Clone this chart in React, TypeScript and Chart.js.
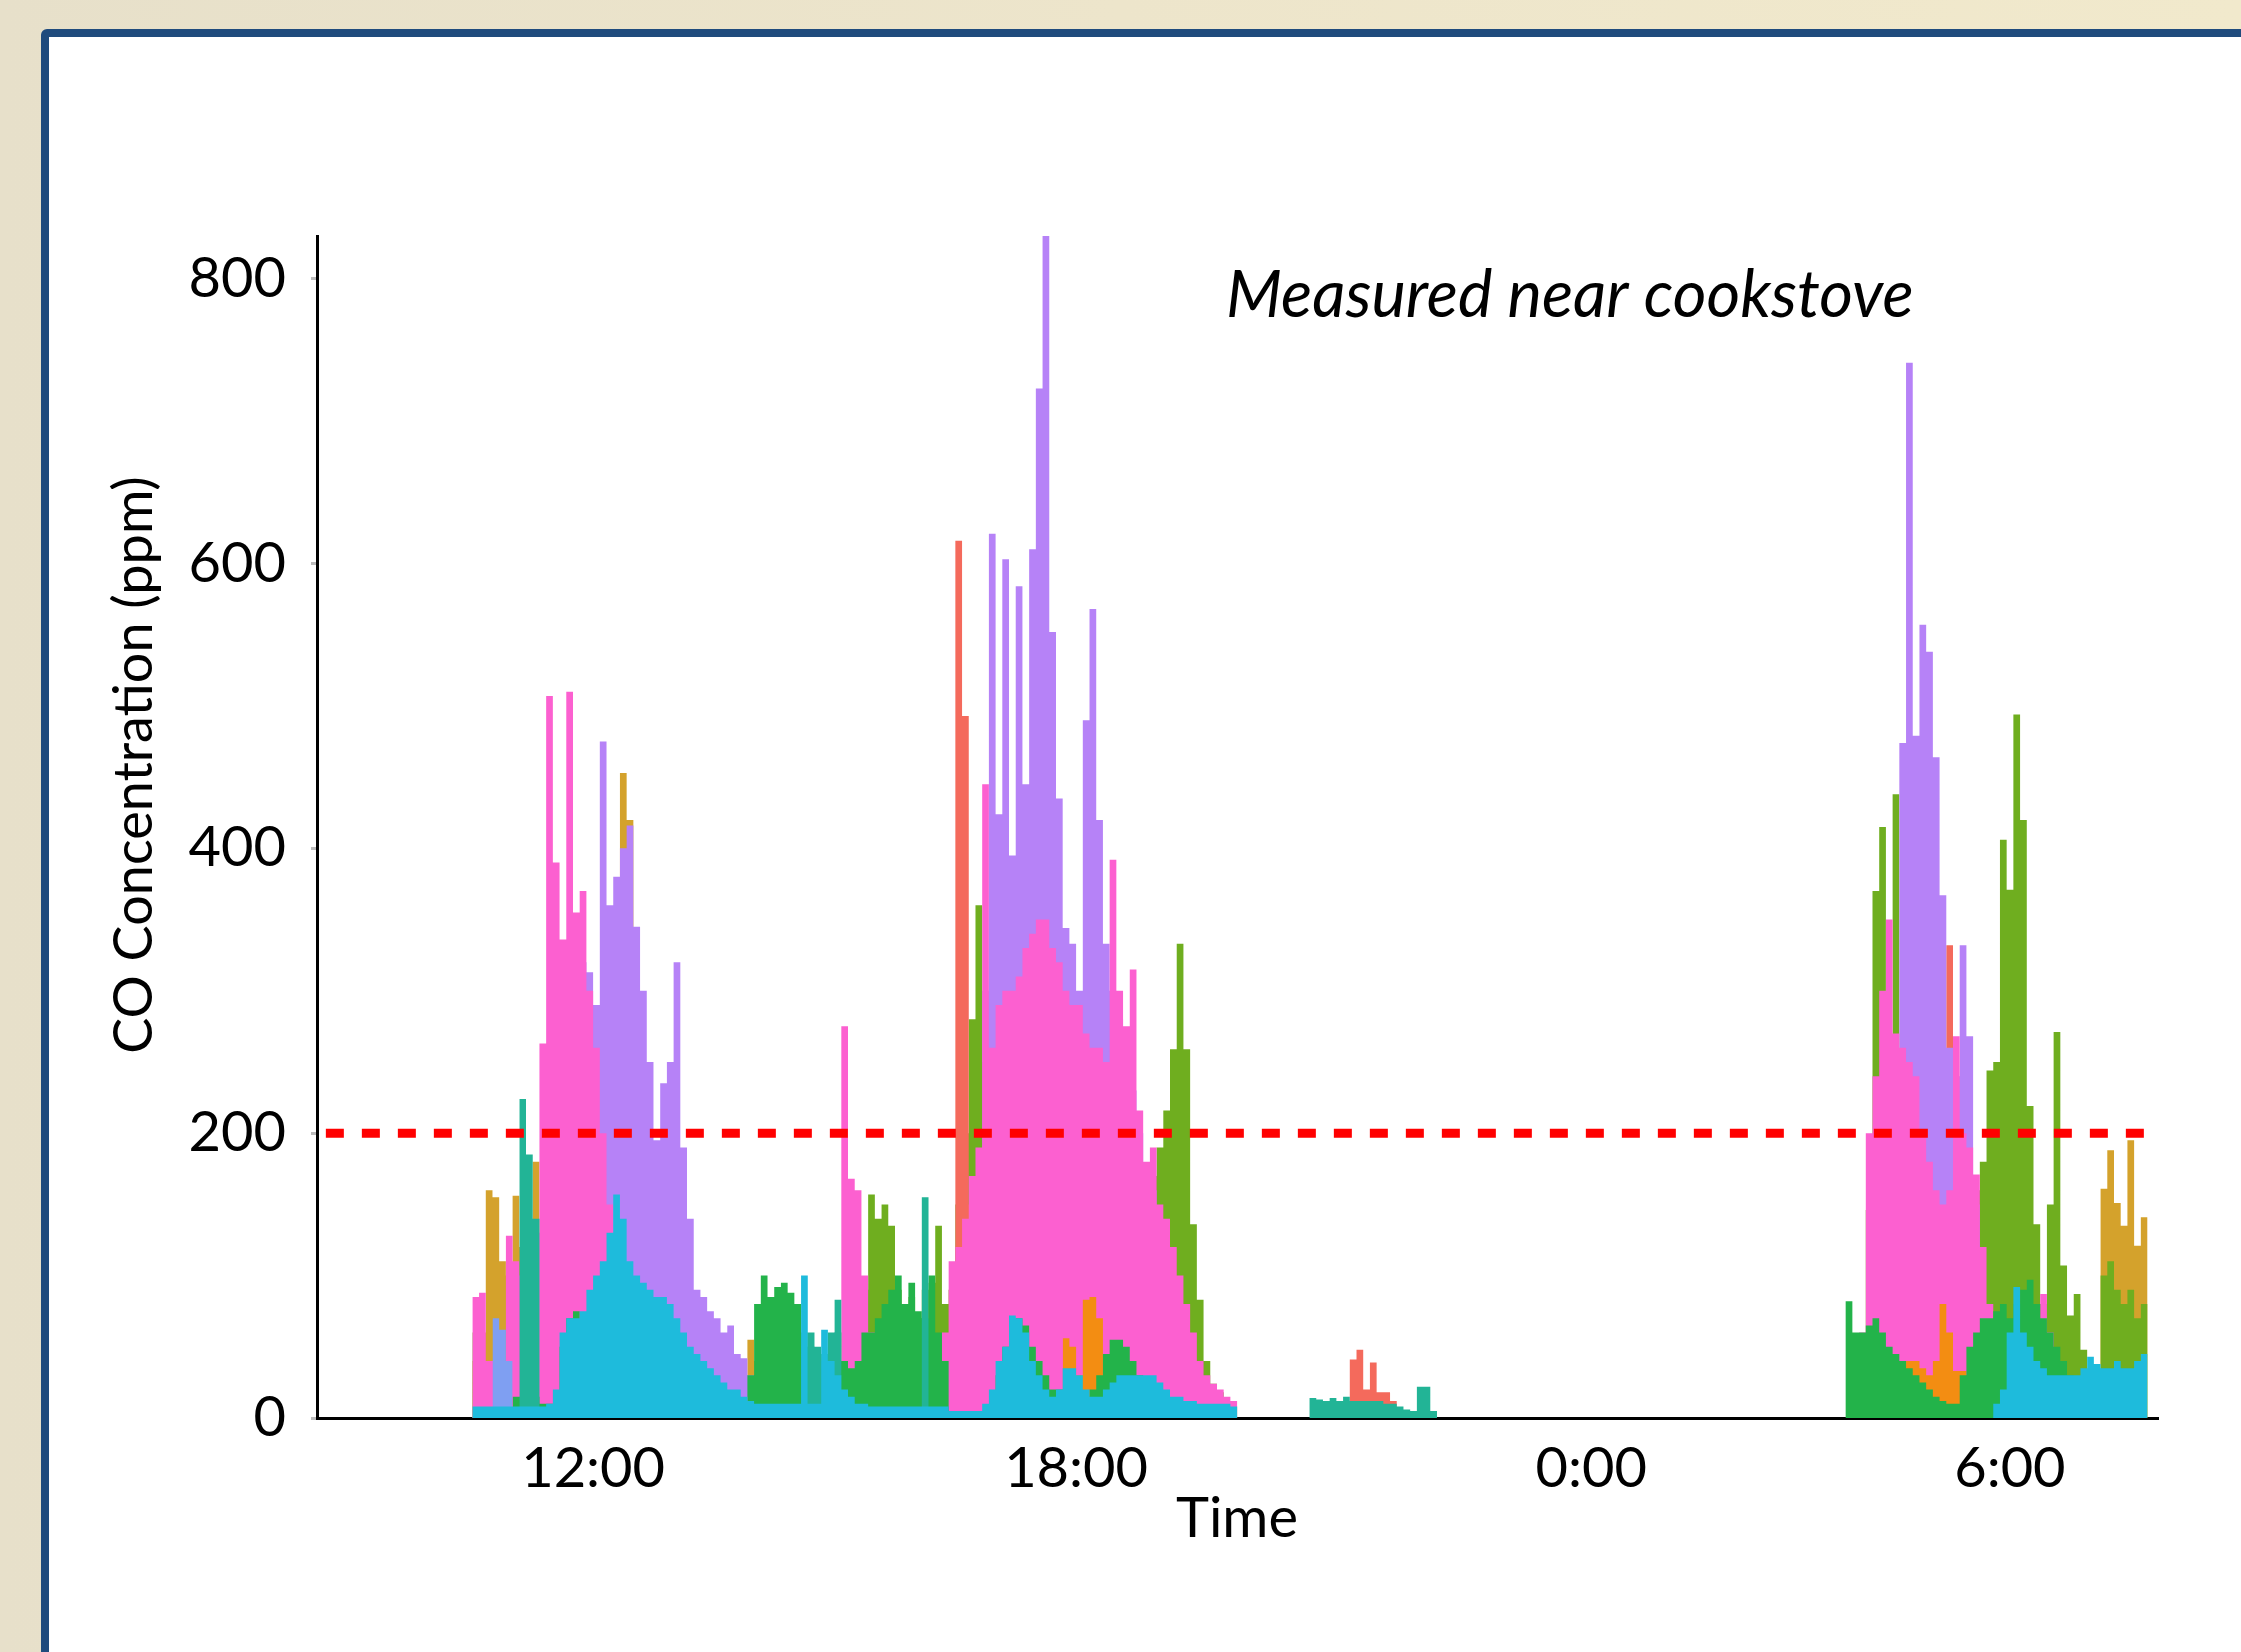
import React, { useEffect, useRef } from "react";
import { Chart, registerables } from "chart.js";

Chart.register(...registerables);

// ---- axes / ticks ----
const STEP_HOURS = 1 / 12; // 5-minute readings
const X_MIN = 8.57;
const X_MAX = 31.44;
const Y_MAX = 830;
const Y_TICKS = [0, 200, 400, 600, 800];
const X_TICK_HOURS = [12, 18, 24.4, 29.6];
const X_TICK_LABELS = ["12:00", "18:00", "0:00", "6:00"];
const LIMIT_PPM = 200;
const LIMIT_START_HOUR = 8.68;

const ANNOTATION = "Measured near cookstove";
const Y_TITLE = "CO Concentration (ppm)";
const X_TITLE = "Time";

// grid start hours of the three cooking periods
const DAY_START = 10.5;
const EVENING_START = 20.9;
const MORNING_START = 27.56;

type Seg = [number, number, number[]]; // [grid start hour, first 5-min index, ppm values]

const ochre: Seg[] = [
  [DAY_START, 0, [40, 60, 160, 155, 110, 100, 156, 120, 100, 180, 120, 100, 90, 80, 80, 90, 100, 120, 150, 200, 260, 330, 453, 420, 200, 100, 60, 40, 30, 20, 10]],
  [DAY_START, 41, [55, 40, 45, 50, 40, 45, 60, 70]],
  [MORNING_START, 38, [161, 188, 151, 135, 195, 121, 141]],
];

const olive: Seg[] = [
  [DAY_START, 0, [60, 30]],
  [DAY_START, 57, [80, 90, 157, 140, 150, 135, 90, 70, 85, 70, 90, 95, 135, 80, 90, 150, 200, 280, 360, 250, 220, 180, 150, 120]],
  [DAY_START, 100, [150, 170, 190, 216, 259, 333, 259, 136, 83, 40, 24, 18, 12, 8]],
  [MORNING_START, 3, [146, 370, 415, 190, 438, 150, 120, 100, 90, 80, 80, 80, 100, 120, 140, 150, 160, 180, 244, 250, 406, 371, 494, 420, 219, 136, 80, 150, 271, 107, 72, 87, 48, 30, 25, 100, 110, 90, 80, 90, 70, 80]],
];

const salmon: Seg[] = [
  [DAY_START, 71, [90, 616, 493, 150, 80]],
  [EVENING_START, 6, [41, 48, 20, 39, 18, 18, 12]],
  [MORNING_START, 14, [150, 332, 220, 120]],
];

const purple: Seg[] = [
  [DAY_START, 15, [300, 320, 313, 290, 475, 360, 380, 400, 416, 345, 300, 250, 195, 235, 250, 320, 190, 140, 90, 85, 75, 70, 60, 65, 45, 42, 30, 20]],
  [DAY_START, 76, [300, 621, 424, 603, 395, 584, 445, 610, 723, 830, 552, 435, 344, 333, 300, 490, 568, 420, 333, 300, 280, 250, 230, 200, 170, 160, 120, 100, 80, 60, 40]],
  [MORNING_START, 8, [474, 741, 479, 557, 538, 464, 367, 260, 240, 332, 268, 150, 80]],
];

const pink: Seg[] = [
  [DAY_START, 0, [85, 88, 40, 40, 40, 128, 110, 100, 120, 130, 263, 507, 390, 336, 510, 355, 370, 300, 260, 200, 150, 120, 100, 80, 60, 40, 25, 15]],
  [DAY_START, 53, [
    20, 30, 275, 168, 160, 100, 60, 40, 30, 30,
    20, 20, 20, 20, 25, 30, 40, 60, 110, 120,
    140, 170, 190, 445, 260, 290, 300, 300, 310, 330,
    340, 350, 350, 330, 320, 300, 290, 290, 270, 260,
    260, 250, 392, 300, 275, 315, 216, 180, 190, 150,
    140, 120, 100, 80, 60, 40, 30, 24, 20, 15,
    12]],
  [MORNING_START, 2, [60, 200, 240, 300, 350, 270, 260, 250, 240, 200, 180, 160, 150, 160, 268, 200, 190, 171, 120, 80, 50, 40, 40, 40, 40, 50, 70, 87, 60, 40]],
];

const orange: Seg[] = [
  [DAY_START, 88, [56, 50, 30, 83, 85, 70, 30]],
  [MORNING_START, 8, [38, 40, 40, 35, 30, 40, 80, 60, 33, 33, 30]],
];

const periwinkle: Seg[] = [
  [DAY_START, 3, [70, 62, 40]],
];

const green: Seg[] = [
  [DAY_START, 6, [15, 15, 15, 15, 10, 10, 10, 50, 70, 75, 65, 45]],
  [DAY_START, 41, [30, 80, 100, 85, 92, 95, 88, 80, 60, 50, 40, 45, 50, 60, 40, 35, 40, 60, 60, 70, 80, 90, 100, 80, 95, 75, 70, 100, 60, 40]],
  [DAY_START, 78, [30, 50, 65, 70, 65, 50, 40, 30, 20, 20, 20, 20, 15, 15, 20, 30, 45, 55, 55, 50, 40, 30]],
  [MORNING_START, 0, [82, 60, 60, 65, 70, 60, 50, 45, 40, 35, 30, 25, 20, 15, 12, 10, 10, 30, 50, 60, 70, 70, 75, 80, 70, 80, 90, 97, 80, 70, 60, 50, 40, 30, 25, 20, 15]],
];

const teal: Seg[] = [
  [DAY_START, 7, [224, 185, 140]],
  [DAY_START, 50, [60, 50, 40, 60, 83]],
  [DAY_START, 67, [155]],
  [EVENING_START, 0, [14, 13, 12, 14, 12, 15, 12, 12, 12, 12, 12, 10, 10, 8, 6, 5, 22, 22, 5]],
];

const cyan: Seg[] = [
  [DAY_START, 0, [
    8, 8, 8, 8, 8, 8, 8, 8, 8, 8,
    8, 10, 20, 60, 70, 70, 75, 90, 100, 110,
    130, 157, 140, 110, 100, 95, 90, 85, 85, 80,
    70, 60, 50, 45, 40, 35, 30, 25, 20, 20,
    15, 12, 10, 10, 10, 10, 10, 10, 10, 100,
    10, 10, 62, 40, 30, 20, 15, 10, 10, 8,
    8, 8, 8, 8, 8, 8, 8, 8, 8, 8,
    8, 5, 5, 5, 5, 5, 10, 20, 40, 50,
    72, 70, 60, 40, 30, 20, 15, 20, 35, 35,
    30, 20, 15, 15, 20, 25, 30, 30, 30, 30,
    30, 30, 25, 20, 15, 15, 12, 12, 10, 10,
    10, 10, 10, 8]],
  [MORNING_START, 22, [10, 20, 60, 92, 60, 50, 40, 35, 30, 30, 30, 30, 30, 35, 43, 38, 35, 35, 40, 35, 35, 40, 45]],
];

// front-to-back (dataset 0 is drawn on top)
const SERIES: [string, Seg[], string][] = [
  ["Cyan", cyan, "#1ebbdc"],
  ["Teal", teal, "#22b496"],
  ["Green", green, "#23b34a"],
  ["Periwinkle", periwinkle, "#7f9ff2"],
  ["Orange", orange, "#f38d12"],
  ["Pink", pink, "#fc60d0"],
  ["Purple", purple, "#b682f7"],
  ["Salmon", salmon, "#f46a5c"],
  ["Olive", olive, "#6fae1f"],
  ["Ochre", ochre, "#d4a22c"],
];

function toPoints(segs: Seg[]) {
  const pts: { x: number; y: number }[] = [];
  segs.forEach(([gridStart, first, vals]) => {
    const x0 = gridStart + first * STEP_HOURS;
    pts.push({ x: x0, y: 0 });
    vals.forEach((v, k) => pts.push({ x: x0 + (k + 1) * STEP_HOURS, y: v }));
  });
  return pts;
}

const textPlugin = {
  id: "chartTexts",
  afterDraw(chart: any) {
    const ctx = chart.ctx as CanvasRenderingContext2D;
    ctx.save();
    ctx.fillStyle = "#000";
    ctx.textBaseline = "middle";
    ctx.textAlign = "left";
    ctx.font = "italic 65px Lato";
    ctx.fillText(ANNOTATION, 1226, 296);
    ctx.textAlign = "center";
    ctx.font = "56px Lato";
    ctx.fillText(X_TITLE, 1237, 1519);
    ctx.translate(135, 765);
    ctx.rotate(-Math.PI / 2);
    ctx.font = "54px Lato";
    ctx.fillText(Y_TITLE, 0, 0);
    ctx.restore();
  },
};

export default function App() {
  const ref = useRef<HTMLCanvasElement>(null);
  useEffect(() => {
    const datasets: any[] = [
      {
        label: "200 ppm",
        data: [
          { x: LIMIT_START_HOUR, y: LIMIT_PPM },
          { x: X_MAX, y: LIMIT_PPM },
        ],
        borderColor: "#ff0000",
        borderWidth: 9,
        borderDash: [18, 18],
        borderCapStyle: "butt",
        pointRadius: 0,
        fill: false,
      },
      ...SERIES.map(([label, segs, color]) => ({
        label,
        data: toPoints(segs),
        backgroundColor: color,
        borderColor: color,
        borderWidth: 0,
        pointRadius: 0,
        stepped: "after",
        fill: "origin",
      })),
    ];
    const chart = new Chart(ref.current!, {
      type: "line",
      data: { datasets },
      options: {
        animation: false,
        responsive: false,
        devicePixelRatio: 1,
        layout: { padding: { top: 236, right: 83, bottom: 0, left: 0 } },
        plugins: { legend: { display: false }, tooltip: { enabled: false } },
        scales: {
          x: {
            type: "linear",
            min: X_MIN,
            max: X_MAX,
            z: 1,
            afterFit: (s: any) => {
              s.height = 234;
            },
            afterBuildTicks: (s: any) => {
              s.ticks = X_TICK_HOURS.map((v) => ({ value: v }));
            },
            grid: { display: false },
            border: { display: true, color: "#000", width: 3 },
            ticks: {
              autoSkip: false,
              maxRotation: 0,
              padding: 9,
              color: "#000",
              font: { family: "Lato", size: 56 },
              callback: (_v: any, i: number) => X_TICK_LABELS[i],
            },
          },
          y: {
            type: "linear",
            min: 0,
            max: Y_MAX,
            z: 1,
            afterFit: (s: any) => {
              s.width = 317;
            },
            afterBuildTicks: (s: any) => {
              s.ticks = Y_TICKS.map((v) => ({ value: v }));
            },
            grid: {
              display: true,
              drawOnChartArea: false,
              drawTicks: true,
              tickLength: 6,
              color: "#bbbbbb",
              lineWidth: 3,
            },
            border: { display: true, color: "#000", width: 3 },
            ticks: {
              padding: 25,
              color: "#000",
              font: { family: "Lato", size: 56 },
              callback: (v: any) => String(v),
            },
          },
        },
      } as any,
      plugins: [textPlugin],
    } as any);
    return () => chart.destroy();
  }, []);

  return (
    <div
      style={{
        position: "fixed",
        left: 0,
        top: 0,
        width: 2241,
        height: 1652,
        overflow: "hidden",
        background: "linear-gradient(90deg, #e7e0ca 0%, #ede5cb 50%, #f1e9cc 100%)",
      }}
    >
      <div
        style={{
          position: "absolute",
          left: 41,
          top: 29,
          width: 2400,
          height: 1800,
          border: "8px solid #1f4b7d",
          borderRadius: 6,
          background: "#ffffff",
        }}
      />
      <canvas
        ref={ref}
        width={2241}
        height={1652}
        style={{ position: "absolute", left: 0, top: 0, width: 2241, height: 1652 }}
      />
    </div>
  );
}
